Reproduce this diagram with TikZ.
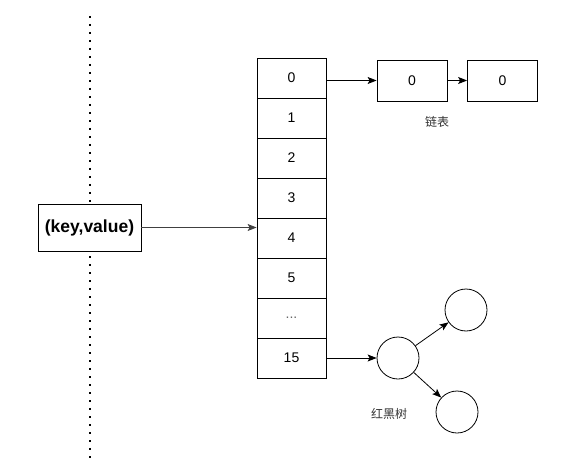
\documentclass[tikz,border=0pt]{standalone}
\usepackage{fontspec}
\setmainfont{Liberation Sans}
\newfontfamily\cjk{Noto Sans CJK SC}
\usetikzlibrary{arrows.meta}
\tikzset{
    cellbox/.style = {draw, line width=0.8pt, minimum width=69pt, minimum height=40pt, font=\fontsize{14}{16}\selectfont, inner sep=0pt},
    listbox/.style = {draw, line width=0.8pt, minimum width=70pt, minimum height=41pt, font=\fontsize{14}{16}\selectfont},
    treenode/.style = {draw, line width=0.8pt, circle, minimum size=42pt, inner sep=0pt},
    link/.style = {line width=0.8pt, -{Stealth[length=9pt, width=7pt, inset=2pt]}}
}
\newcommand{\celldots}{{\color{black!60}...}}
\begin{document}
\begin{tikzpicture}[x=1pt, y=-1pt]
                \useasboundingbox (0,0) rectangle (585,470);
                % dotted divider
                \coordinate (top) at (90,16);
                \coordinate (bottom) at (90,463);
                \draw[line width=1.6pt, dash pattern=on 1.6pt off 6.4pt] (top) -- (bottom);
                \node[draw, line width=0.8pt, fill=white, minimum width=103pt, minimum height=47pt,
                    font=\bfseries\fontsize{17.5}{19}\selectfont] (kv) at (89.5,227.5) {(key,value)};
                % bucket array
                \foreach \lbl [count=\i from 0] in {0,1,2,3,4,5,\celldots,15}
                    \node[cellbox] (cell\i) at (291.5, 78+40*\i) {\lbl};
                % linked list
                \node[listbox] (list1) at (412,80.5) {0};
                \node[listbox] (list2) at (502.5,80.5) {0};
                \node[font=\cjk\fontsize{12}{14}\selectfont, text=black!80] (listlbl) at (437,122) {链表};
                % red-black tree
                \node[treenode] (root) at (398,358) {};
                \node[treenode] (right) at (466,310) {};
                \node[treenode] (left) at (457,412) {};
                \node[font=\cjk\fontsize{12}{14}\selectfont, text=black!80] (treelbl) at (389,414) {红黑树};
                \draw[link, black!75] (kv) -- (kv -| cell4.west);
                \draw[link] (cell0.east |- list1) -- (list1.west);
                \draw[link] (list1) -- (list2);
                \draw[link] (cell7) -- (root);
                \draw[link] (root) -- (right);
                \draw[link] (root) -- (left);
            \end{tikzpicture}
\end{document}
